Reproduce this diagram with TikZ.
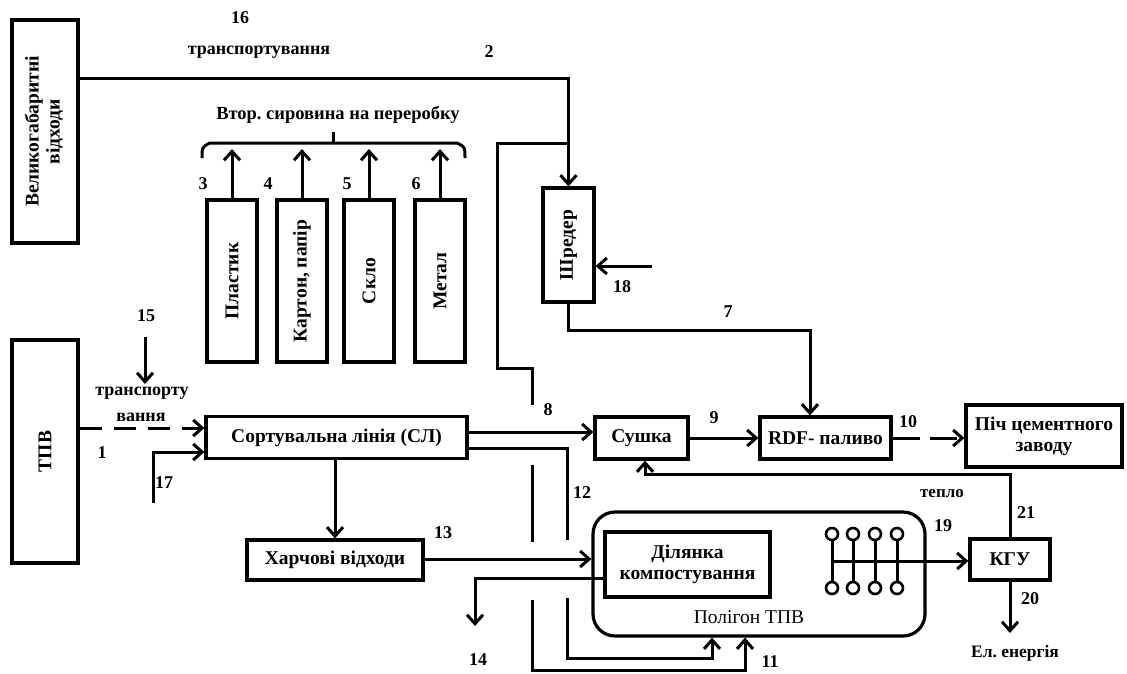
\documentclass[tikz,border=0pt]{standalone}
\usepackage{fontspec}
\setmainfont{Liberation Serif}
\usepackage{graphicx}
\usetikzlibrary{arrows.meta}
\tikzset{
  box/.style={draw, line width=3.2pt, inner sep=0pt, align=center, font=\bfseries\fontsize{19.5}{21}\selectfont},
  ln/.style={line width=3pt},
  arr/.style={ln, -{Straight Barb[length=9pt,width=16pt]}},
  lbl/.style={inner sep=0pt, font=\bfseries\fontsize{18}{20}\selectfont},
  txt/.style={inner sep=0pt, align=center, font=\bfseries\fontsize{18}{20}\selectfont},
  dsh/.style={dash pattern=on 22pt off 12pt},
}
\frenchspacing
\begin{document}
\begin{tikzpicture}[x=1pt,y=-1pt]
\useasboundingbox[fill=white] (0,0) rectangle (1127,673);

% boxes
\node[box, minimum width=66pt, minimum height=223pt] (velyk) at (45,131.5) {\rotatebox{90}{\begin{tabular}{@{}c@{}}Великогабаритні\\відходи\end{tabular}}};
\node[box, minimum width=66pt, minimum height=223pt] (tpv) at (45,451.5) {\rotatebox{90}{ТПВ}};
\node[box, minimum width=50pt, minimum height=162pt] (plast) at (232,281) {\rotatebox{90}{Пластик}};
\node[box, minimum width=50pt, minimum height=162pt] (karton) at (302,281) {\rotatebox{90}{Картон, папір}};
\node[box, minimum width=50pt, minimum height=162pt] (sklo) at (369,281) {\rotatebox{90}{Скло}};
\node[box, minimum width=50pt, minimum height=162pt] (metal) at (440,281) {\rotatebox{90}{Метал}};
\node[box, minimum width=51pt, minimum height=114pt] (shred) at (568.5,245) {\rotatebox{90}{Шредер}};
\node[box, minimum width=261pt, minimum height=42pt] (sl) at (336.5,437.5) {Сортувальна лінія (СЛ)};
\node[box, minimum width=176pt, minimum height=40pt] (harch) at (335,560) {Харчові відходи};
\node[box, minimum width=93pt, minimum height=42pt] (sushka) at (641.5,438) {Сушка};
\node[box, minimum width=131pt, minimum height=42pt] (rdf) at (825.5,438) {RDF- паливо};
\node[box, minimum width=156pt, minimum height=62pt] (pich) at (1044,436) {Піч цементного\\заводу};
\node[box, minimum width=80pt, minimum height=41pt] (kgu) at (1010,559.5) {КГУ};
\node[draw, line width=3.2pt, rounded corners=22pt, minimum width=332pt, minimum height=124pt] (poligon) at (759,574) {};
\node[box, minimum width=165pt, minimum height=65pt] (dil) at (687.5,564.5) {Ділянка\\компостування};
\node[inner sep=0pt, font=\fontsize{19.5}{21}\selectfont] (poltxt) at (749,617) {Полігон ТПВ};

% gas wells
\foreach \gx in {832,853,875,897}{
  \draw[ln] (\gx,539) -- (\gx,583);
  \draw[line width=2.6pt, fill=white] (\gx,534) circle (6pt);
  \draw[line width=2.6pt, fill=white] (\gx,588) circle (6pt);
}

% brace
\draw[ln] (202,158) .. controls (202,147) .. (210,143) -- (457,143) .. controls (465,147) .. (465,158);
\draw[ln] (333,143) -- (333,132);

% connectors
\coordinate (c16) at (568.5,78);
\draw[arr] (velyk.east |- c16) -- (c16) -- (shred.north);
\coordinate (b1) at (568.5,143);
\draw[ln] (b1) -- (497,143) -- (497,368) -- (532,368) -- (532,405);
\draw[ln] (532,465) -- (532,542);
\draw[arr] (532,600) -- (532,670) -- (745,670) -- (poligon.south -| 745,0);

\foreach \b in {plast,karton,sklo,metal}{
  \draw[arr] (\b.north) -- (\b.north |- 0,149);
}

\draw[arr, dsh] (tpv.east |- 0,428) -- (sl.west |- 0,428);
\coordinate (s15) at (145,337);
\coordinate (e15) at (145,384);
\draw[arr] (s15) -- (e15);
\coordinate (s17) at (153,503);
\draw[arr] (s17) -- (153,452) -- (sl.west |- 0,452);
\coordinate (s18) at (652,266);
\draw[arr] (s18) -- (shred.east |- s18);
\draw[arr] (shred.south) -- (568.5,330) -- (810,330) -- (rdf.north -| 810,0);

\draw[arr] (sl.east |- 0,432) -- (sushka.west |- 0,432);
\draw[ln] (sl.east |- 0,448) -- (567,448) -- (567,540);
\draw[arr] (567,598) -- (567,658) -- (712,658) -- (poligon.south -| 712,0);

\draw[arr] (sushka) -- (rdf);
\draw[arr, dash pattern=on 27pt off 10pt] (rdf.east) -- (pich.west |- rdf.east);

\draw[arr] (sl.south -| harch.north) -- (harch.north);
\draw[arr] (harch.east |- 0,559) -- (poligon.west |- 0,559);
\coordinate (e14) at (475,626);
\draw[arr] (dil.west |- 0,578) -- (475,578) -- (e14);

\draw[arr] (kgu.north) -- (kgu.north |- 0,474) -- (645,474) -- (sushka.south -| 645,0);
\coordinate (g19) at (832,561);
\draw[arr] (g19) -- (kgu.west |- g19);
\coordinate (e20) at (1010,633);
\draw[arr] (kgu.south) -- (e20);

% labels
\node[lbl] (l16) at (240,18) {16};
\node[txt] (ltr) at (259,52) {транспортування};
\node[lbl] (l2) at (489,52) {2};
\node[txt, font=\bfseries\fontsize{18.5}{20}\selectfont] (lvt) at (338,115) {Втор. сировина на переробку};
\node[lbl] (l3) at (203,184) {3};
\node[lbl] (l4) at (268,184) {4};
\node[lbl] (l5) at (347,184) {5};
\node[lbl] (l6) at (416,184) {6};
\node[lbl] (l15) at (146,316) {15};
\node[txt] (ltr2) at (142,393) {транспорту};
\node[txt] (ltr3) at (141,417) {вання};
\node[lbl] (l1) at (102,453) {1};
\node[lbl] (l17) at (164,483) {17};
\node[lbl] (l18) at (622,287) {18};
\node[lbl] (l7) at (728,312) {7};
\node[lbl] (l8) at (548,410) {8};
\node[lbl] (l9) at (714,418) {9};
\node[lbl] (l10) at (908,422) {10};
\node[lbl] (l12) at (582,493) {12};
\node[lbl] (l13) at (443,533) {13};
\node[lbl] (l14) at (478,660) {14};
\node[lbl] (l11) at (770,662) {11};
\node[txt, font=\bfseries\fontsize{17}{19}\selectfont] (lteplo) at (942,494) {тепло};
\node[lbl] (l21) at (1026,513) {21};
\node[lbl] (l19) at (943,526) {19};
\node[lbl] (l20) at (1030,599) {20};
\node[txt, font=\bfseries\fontsize{17.5}{19}\selectfont] (lel) at (1015,653) {Ел. енергія};
\end{tikzpicture}
\end{document}
